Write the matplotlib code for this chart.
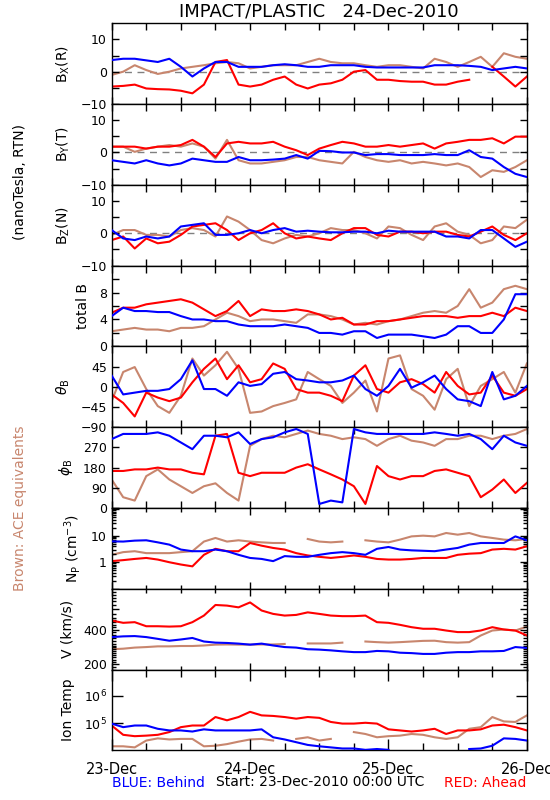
import numpy as np
import pandas as pd
import matplotlib
matplotlib.use('Agg')
import matplotlib.pyplot as plt
import matplotlib.dates as mdates
from matplotlib.ticker import FixedLocator, NullFormatter, NullLocator

nan = np.nan

# samples every 2 hours, 23-Dec-2010 00:00 to 26-Dec-2010 00:00
times = pd.date_range('2010-12-23', periods=37, freq='2h')

# magnetic field components (nT), blue = STEREO Behind, red = Ahead, brown = ACE
bx_blue = [3.6, 4, 4, 3.5, 3, 4, 1.5, -1.5, 1, 3, 3, 1.5, 1.5, 1.5, 2, 2.3, 2, 1.5, 1.5,
           2, 2, 2, 1.5, 1.3, 1.3, 1.3, 1.3, 1.3, 2, 2, 2, 1.8, 1.5, 0.5, 1, 1.5, 1]
bx_red = [-4.6, -4.4, -4, -5.2, -5.4, -5.5, -5.9, -6.7, -4, 3, 3.6, -4, -4.6, -4, -2.5, -1.5,
          -4, -5.2, -4, -3.6, -2.5, 0, 0.5, -2.5, -2.5, -2.9, -3.1, -3.1, -4, -4, -3.1, -2.5,
          nan, 1.5, -1.5, -4.6, -1.5]
bx_brown = [-1, 0, 2, 0.5, -0.7, 0, 1, 1.5, 2, 2.6, 3, 2.6, 1, 1.5, 2, 2, 2, 3, 4, 3, 2.6,
            2.6, 2, 1.5, 2, 2, 1.5, 1, 4, 3, 1.5, 3, 4.6, 1.5, 5.7, 4.6, 4]

by_blue = [-2.4, -2.9, -3.4, -2.4, -3.4, -4, -3.4, -1.9, -2.4, -2.9, -2.9, -1.4, -2.4, -2.4,
           -2.2, -1.9, -0.8, -1.9, 0.5, 0.4, 0, 0, -0.8, -0.5, -0.5, -0.8, -0.8, -0.8, -0.5,
           -0.8, -0.8, 0.7, -1.4, -1.9, -4.5, -6.6, -7.6]
by_red = [1.8, 1.8, 1.8, 1.2, 1.8, 1.8, 2.3, 3.9, 1.8, -1.4, 2.8, 3.3, 2.8, 2.8, 3.3, 1.8,
          0.7, -0.8, 1.2, 2.3, 3.3, 2.8, 1.8, 1.8, 2.3, 1.8, 2.3, 2.8, 1.2, 2.8, 3.3, 3.9,
          3.9, 4.4, 2.8, 4.9, 4.9]
by_brown = [1.8, 1.8, 0.2, 1.2, 1.8, 2.3, 1.8, 2.8, 1.8, -1.9, 3.9, -2.4, -3.4, -3.4, -2.9,
            -2.4, -1.4, -1.4, -2.4, -2.9, -3.4, 0.2, -1.4, -2.4, -2.9, -2.4, -3.4, -2.9,
            -3.4, -4, -3.4, -4.5, -7.6, -5.5, -6, -4.5, -2.4]

bz_blue = [1, -1.6, -2.1, -1, -1.6, -1, 2.1, 2.6, 3.1, -0.5, -0.5, 0, 1, 0, 1, 1.6, 0.5,
           0.8, 0.5, 0.3, 0.3, 0.5, 0.5, 0, 0.8, 0.5, 0.5, 0.5, 0.5, -1, -1, -1.6, 1, 1,
           -1.6, -4.2, -2.6]
bz_red = [-2.1, -1, -4.7, -1.6, -3.1, -2.6, -0.5, 2.1, 2.6, 3.1, 1, -2.1, 0, 1, 3.1, 0,
          -1.6, -1, -1.6, -2.1, 0, 1.6, 1.6, -0.5, -1, 0.5, 0.5, 0, 0.5, 0.5, -0.5, -1, 0.5,
          2.1, -0.5, -2.1, 0]
bz_brown = [-0.5, 1, 1, -0.5, -0.5, -1, 1, 1.6, 1, -1, 5.2, 3.6, 1, -2.1, -3.1, -1.6, -0.5,
            -1, 0, 1.6, 1, 1, 0, -1.6, 2.1, 1.6, -0.5, -2.1, 2.1, 3.1, 0.5, -0.5, -3.1, -2.1,
            2.1, 1.6, 4.2]

btot_blue = [4.5, 5.75, 5.25, 5.25, 5.1, 5.1, 4.5, 4, 4, 3.75, 3.75, 3.25, 3, 3, 3, 3.25, 3,
             2.75, 2, 2, 1.75, 2.25, 2.25, 1.25, 1.75, 1.75, 1.75, 1.5, 1.25, 1.75, 3, 3, 2,
             2, 4, 7.75, 7.75]
btot_red = [5, 5.75, 5.75, 6.25, 6.5, 6.75, 7, 6.5, 5.5, 4.5, 5.25, 6.75, 4.5, 5.5, 5.25,
            5.25, 5.5, 5.25, 4.75, 4, 4.25, 3.25, 3.25, 3.75, 3.75, 4, 4.25, 4.5, 4.5, 4.5,
            4.25, 4.5, 4.5, 5, 4.5, 5.75, 5.25]
btot_brown = [2.25, 2.5, 2.75, 2.5, 2.5, 2.25, 2.75, 2.75, 3, 4, 5, 4.5, 3.75, 4, 4, 3.75,
              3.5, 4.75, 4.75, 4.5, 4, 3.25, 3.5, 3.25, 3.75, 4, 4.5, 5, 5.25, 5, 6, 8.5,
              5.75, 6.5, 8.5, 9, 8.5]

# field direction (deg)
theta_blue = [25, -17, -13, -9, -9, -5, 17, 59, -5, -5, -20, 10, 2, 6, 29, 33, 17, 14, 10,
              10, 14, 25, -5, -20, 2, 40, -2, 10, 25, -5, -28, -32, -43, 33, -28, -20, 2]
theta_red = [-17, -36, -66, -13, -24, -32, -24, 10, 40, 63, 17, 48, 10, 17, 52, 40, -5, -13,
             -13, -20, -32, 25, 48, -5, -13, 10, 17, 6, -13, 33, 2, -17, -13, 25, -13, -20, -5]
theta_brown = [-32, 33, 44, -5, -43, -58, -20, 63, 25, 48, 78, 40, -58, -55, -43, -36, -28,
               33, 17, 2, -36, -13, 14, -55, 63, 70, -5, -20, -51, 17, 40, -43, 2, 17, 33,
               -13, 52]

phi_blue = [307, 330, 330, 330, 337, 322, 292, 262, 322, 322, 315, 337, 285, 307, 315, 337,
            352, 330, 18, 33, 25, 352, 337, 330, 330, 330, 330, 330, 337, 330, 322, 330, 307,
            262, 322, 292, 277]
phi_red = [165, 165, 172, 172, 180, 172, 172, 157, 150, 322, 330, 157, 142, 157, 157, 157,
           180, 195, 172, 150, 127, 97, 18, 187, 142, 127, 142, 142, 165, 172, 157, 142, 48,
           82, 127, 67, 112]
phi_brown = [127, 48, 33, 142, 172, 127, 97, 67, 97, 110, 67, 33, 277, 307, 322, 315, 330,
             345, 330, 322, 307, 315, 307, 277, 307, 322, 300, 292, 277, 307, 307, 322, 322,
             307, 322, 330, 352]

# proton density (cm^-3)
np_blue = [6.1, 6, 6.5, 6.7, 5.6, 4.6, 3, 2.6, 2.6, 3, 2.6, 1.9, 1.45, 1.33, 1.1, 1.7, 1.6,
           1.6, 1.9, 2.2, 2.4, 2.2, 1.9, 3.2, 3.75, 3, 2.8, 2.7, 2.6, 3, 3.45, 4.6, 5.3, 5.3,
           5.3, 9.4, 6.7]
np_red = [1.1, 1.2, 1.33, 1.45, 1.26, 1, 0.82, 0.7, 1.9, 3.2, 2.6, 2.6, 5.3, 4.2, 3.45, 3,
          2.2, 1.8, 1.6, 1.45, 1.6, 1.8, 1.6, 1.33, 1.26, 1.26, 1.33, 1.45, 1.45, 1.45, 1.9,
          2.1, 2.2, 3, 3.2, 3, 4]
np_brown = [1.9, 2.4, 2.6, 2.2, 2.2, 2.2, 2.4, 2.6, 6, 8.2, 6, 6.7, 6, 5.6, 5.3, 5.3, nan,
            7.5, 6, 5.6, 6, nan, 6.7, 6, 5.6, 7.1, 9.4, 10, 9.4, 12.6, 10.9, 12.6, 9.4, 8.2,
            7.1, 6.7, 7.5]

# bulk speed (km/s)
v_blue = [344, 349, 351, 344, 332, 320, 328, 338, 315, 308, 306, 302, 296, 302, 291, 282,
          279, 270, 268, 264, 259, 255, 255, 261, 259, 252, 250, 246, 246, 252, 255, 255, 259,
          259, 261, 282, 277]
v_red = [478, 457, 463, 427, 427, 424, 427, 463, 528, 652, 644, 622, 686, 584, 546, 528, 535,
         563, 546, 528, 522, 522, 528, 463, 457, 439, 419, 406, 406, 392, 380, 380, 392, 419,
         400, 392, 355]
v_brown = [270, 273, 279, 282, 286, 286, 288, 288, 291, 296, 297, 296, 296, 297, 297, 300,
           nan, 303, 303, 303, 308, nan, 315, 311, 308, 311, 315, 319, 320, 311, 308, 311,
           355, 392, 400, 392, 424]

# ion temperature, log10(K)
log_temp_blue = [4.98, 4.85, 4.91, 4.91, 4.79, 4.73, 4.73, 4.69, 4.77, 4.73, 4.73, 4.73,
                 4.73, 4.77, 4.48, 4.4, 4.3, 4.2, 4.15, 4.11, 4.07, 4.07, 4.02, 4.05, 4.02,
                 nan, nan, 4.02, nan, nan, nan, 4.05, 4.07, 4.17, 4.44, 4.42, 4.36]
log_temp_red = [4.91, 4.57, 4.52, 4.54, 4.57, 4.67, 4.85, 4.91, 4.91, 5.22, 5.1, 5.22, 5.41,
                5.28, 5.26, 5.22, 5.16, 5.22, 5.19, 5.04, 4.98, 4.98, 5.01, 4.98, 4.77, 4.73,
                4.69, 4.73, 4.79, 4.6, 4.73, 4.73, 4.77, 4.91, 4.94, 4.85, 4.73]
log_temp_brown = [4.15, 4.15, 4.11, 4.36, 4.44, 4.4, 4.42, 4.42, 4.15, 4.17, 4.23, 4.32, 4.4,
                  4.42, 4.36, nan, 4.42, 4.48, 4.36, 4.42, nan, 4.67, 4.6, 4.48, 4.52, 4.54,
                  4.6, 4.57, 4.48, 4.42, 4.48, 4.79, 4.85, 5.22, 5.06, 5.04, 5.28]

BLUE = '#0000ff'
RED = '#ff0000'
BROWN = '#c8866e'

panels = [
    (r'B$_{\rm X}$(R)', bx_blue, bx_red, bx_brown),
    (r'B$_{\rm Y}$(T)', by_blue, by_red, by_brown),
    (r'B$_{\rm Z}$(N)', bz_blue, bz_red, bz_brown),
    ('total B', btot_blue, btot_red, btot_brown),
    (r'$\theta_{\rm B}$', theta_blue, theta_red, theta_brown),
    (r'$\phi_{\rm B}$', phi_blue, phi_red, phi_brown),
    (r'N$_{\rm P}$ (cm$^{-3}$)', np_blue, np_red, np_brown),
    ('V (km/s)', v_blue, v_red, v_brown),
    ('Ion Temp', 10 ** np.array(log_temp_blue), 10 ** np.array(log_temp_red),
     10 ** np.array(log_temp_brown)),
]

plt.rcParams['font.family'] = 'DejaVu Sans'
plt.rcParams['axes.linewidth'] = 1.0

fig, axes = plt.subplots(9, 1, figsize=(5.5, 8), dpi=100, sharex=True,
                         gridspec_kw={'hspace': 0})
fig.subplots_adjust(left=0.203, right=0.958, top=0.971, bottom=0.062)

for ax, (label, blue, red, brown) in zip(axes, panels):
    ax.plot(times, brown, color=BROWN, lw=1.5, zorder=1)
    ax.plot(times, red, color=RED, lw=1.5, zorder=2)
    ax.plot(times, blue, color=BLUE, lw=1.5, zorder=3)
    ax.set_ylabel(label, fontsize=10, labelpad=6)
    ax.tick_params(which='both', direction='in', top=True, right=True, width=1,
                   labelsize=9)
    ax.tick_params(which='major', length=5)
    ax.tick_params(which='minor', length=5)

# field component panels
for ax in axes[:3]:
    ax.axhline(0, color='gray', lw=1, ls=(0, (5, 4)), zorder=0)
    ax.set_ylim(-10, 15)
    ax.set_yticks([-10, 0, 10])
    ax.yaxis.set_minor_locator(FixedLocator([-5, 5]))

axes[3].set_ylim(0, 12)
axes[3].set_yticks([0, 4, 8])
axes[3].yaxis.set_minor_locator(FixedLocator([2, 6, 10]))

axes[4].set_ylim(-90, 90)
axes[4].set_yticks([-90, -45, 0, 45])

axes[5].set_ylim(0, 360)
axes[5].set_yticks([0, 90, 180, 270])

ax = axes[6]
ax.set_yscale('log')
ax.set_ylim(0.1, 110)
ax.yaxis.set_major_locator(FixedLocator([0.1, 1, 10, 100]))
ax.set_yticklabels(['', '1', '10', ''])
minor_np = [m * d for d in (0.1, 1, 10) for m in range(2, 10)]
ax.yaxis.set_minor_locator(FixedLocator(minor_np))
ax.yaxis.set_minor_formatter(NullFormatter())
ax.tick_params(which='minor', length=3)

ax = axes[7]
ax.set_yscale('log')
ax.set_ylim(180, 900)
ax.yaxis.set_major_locator(FixedLocator([200, 400, 600]))
ax.set_yticklabels(['200', '400', ''])
minor_v = list(range(180, 300, 10)) + list(range(300, 500, 20)) + list(range(500, 900, 50))
ax.yaxis.set_minor_locator(FixedLocator(minor_v))
ax.yaxis.set_minor_formatter(NullFormatter())
ax.tick_params(which='minor', length=3)

ax = axes[8]
ax.set_yscale('log')
ax.set_ylim(1e4, 9e6)
ax.yaxis.set_major_locator(FixedLocator([1e5, 1e6]))
ax.set_yticklabels([r'10$^5$', r'10$^6$'])
ax.yaxis.set_minor_locator(NullLocator())
ax.tick_params(which='major', length=8)

# time axis
ax.set_xlim(pd.Timestamp('2010-12-23'), pd.Timestamp('2010-12-26'))
ax.xaxis.set_major_locator(mdates.DayLocator())
ax.xaxis.set_minor_locator(mdates.HourLocator(byhour=[6, 12, 18]))
ax.xaxis.set_major_formatter(mdates.DateFormatter('%d-%b'))
ax.tick_params(axis='x', labelsize=10.5, pad=8)

fig.text(0.58, 0.985, 'IMPACT/PLASTIC   24-Dec-2010', ha='center', va='center', fontsize=13)
fig.text(0.036, 0.7725, '(nanoTesla, RTN)', rotation=90, ha='center', va='center',
         fontsize=10)
fig.text(0.036, 0.365, 'Brown: ACE equivalents', rotation=90, ha='center', va='center',
         fontsize=10, color=BROWN)
fig.text(0.204, 0.021, 'BLUE: Behind', ha='left', va='center', fontsize=10, color=BLUE)
fig.text(0.582, 0.022, 'Start: 23-Dec-2010 00:00 UTC', ha='center', va='center',
         fontsize=10)
fig.text(0.957, 0.021, 'RED: Ahead', ha='right', va='center', fontsize=10, color=RED)

fig.savefig('out.png', dpi=100)
